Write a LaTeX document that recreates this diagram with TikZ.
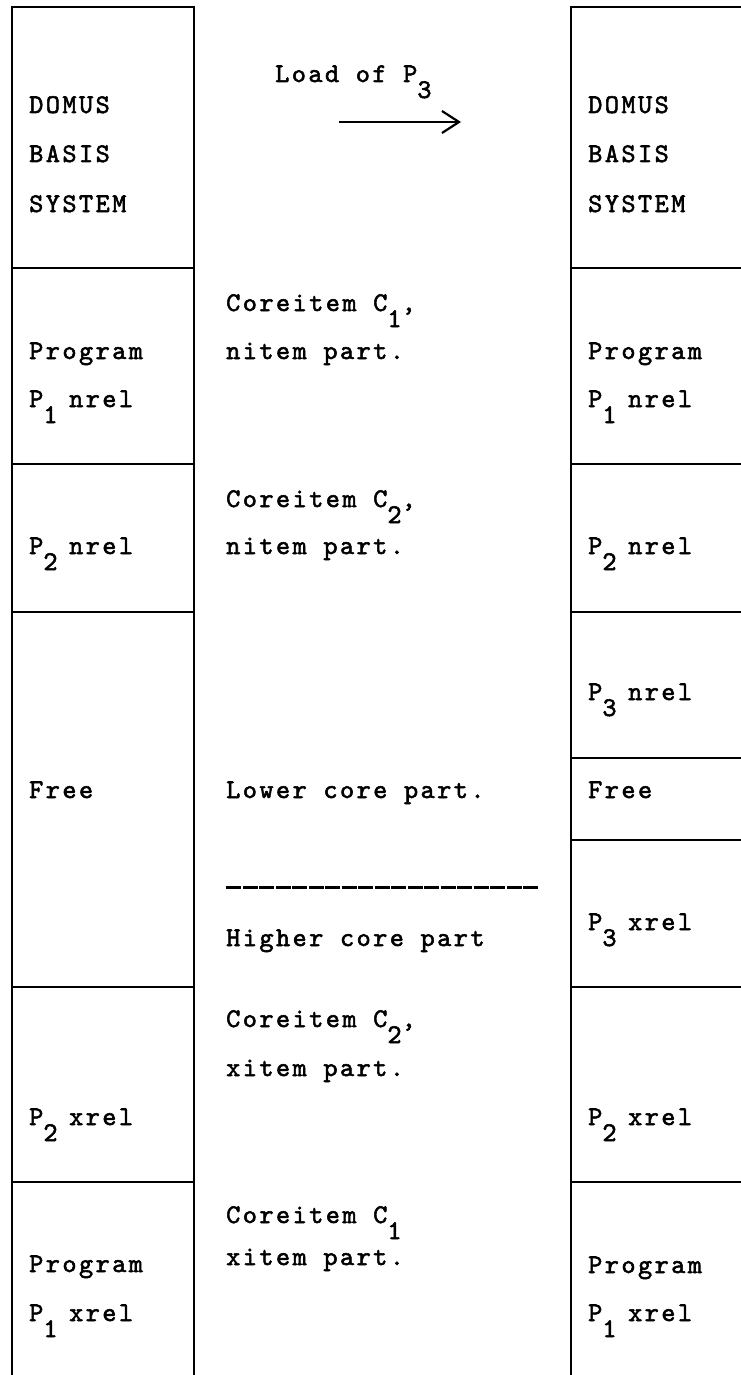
\documentclass[tikz,border=0pt]{standalone}
\usepackage{fontspec}
\newfontfamily\typew[LetterSpace=9,FakeBold=2]{lmmono10-regular.otf}
\usetikzlibrary{arrows.meta}
\newcommand{\idx}[1]{\raisebox{-16pt}{#1}}
\newcommand{\pn}[1]{P\idx{#1}\kern-5pt\relax}
\tikzset{
  txt/.style={anchor=base west, inner sep=0pt, font=\typew\fontsize{27}{48}\selectfont},
  wall/.style={line width=2.4pt},
  cut/.style={line width=3pt, dash pattern=on 15pt off 1.5pt},
}

\begin{document}
\begin{tikzpicture}[x=1pt,y=-1pt]
  \useasboundingbox (0,0) rectangle (741,1375);
  % store before (left) and after (right) the load
  \draw[wall] (12,1375) -- (12,7) -- (194,7) -- (194,1375);
  \draw[wall] (571,1375) -- (571,7) -- (741,7);
  \foreach \y in {268,464,612,987,1182}
    \draw[wall] (12,\y) -- (194,\y);
  \foreach \y in {268,464,612,758,840,987,1182}
    \draw[wall] (571,\y) -- (741,\y);
  \draw
    (29,113) node[txt] (l0a){DOMUS}
    (29,162) node[txt] (l0b){BASIS}
    (29,212) node[txt] (l0c){SYSTEM}
    (29,359) node[txt] (l1a){Program}
    (29,407) node[txt] (l1b){\pn{1} nrel}
    (29,554) node[txt] (l2){\pn{2} nrel}
    (29,798) node[txt] (l3){Free}
    (29,1125) node[txt] (l4){\pn{2} xrel}
    (29,1272) node[txt] (l5a){Program}
    (29,1321) node[txt] (l5b){\pn{1} xrel};
  \draw
    (588,113) node[txt] (r0a){DOMUS}
    (588,162) node[txt] (r0b){BASIS}
    (588,212) node[txt] (r0c){SYSTEM}
    (588,359) node[txt] (r1a){Program}
    (588,407) node[txt] (r1b){\pn{1} nrel}
    (588,554) node[txt] (r2){\pn{2} nrel}
    (588,700) node[txt] (r3){\pn{3} nrel}
    (588,798) node[txt] (r4){Free}
    (588,930) node[txt] (r5){\pn{3} xrel}
    (588,1125) node[txt] (r6){\pn{2} xrel}
    (588,1273) node[txt] (r7a){Program}
    (588,1321) node[txt] (r7b){\pn{1} xrel};
  \draw
    (275,82) node[txt] (load){Load of P\idx{3}}
    (226,311) node[txt] (m1a){Coreitem C\idx{1},}
    (226,359) node[txt] (m1b){nitem part.}
    (226,507) node[txt] (m2a){Coreitem C\idx{2},}
    (226,554) node[txt] (m2b){nitem part.}
    (226,798) node[txt] (lower){Lower core part.}
    (226,946) node[txt] (higher){Higher core part}
    (226,1027) node[txt] (x2a){Coreitem C\idx{2},}
    (226,1076) node[txt] (x2b){xitem part.}
    (226,1223) node[txt] (x1a){Coreitem C\idx{1}}
    (226,1265) node[txt] (x1b){xitem part.};
  \coordinate (loadA) at (339,122);
  \coordinate (loadB) at (461,122);
  \coordinate (cutA) at (226,887);
  \coordinate (cutB) at (538,887);
  \draw[line width=2.2pt, -{Straight Barb[length=17pt,width=22pt]}] (loadA) -- (loadB);
  \draw[cut] (cutA) -- (cutB);
\end{tikzpicture}
\end{document}
